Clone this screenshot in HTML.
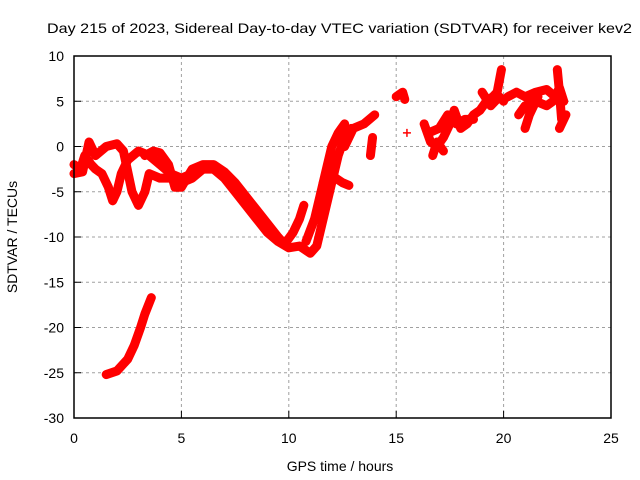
<!DOCTYPE html>
<html><head><meta charset="utf-8"><style>
body{margin:0;background:#fff}
svg{display:block;font-family:"Liberation Sans",sans-serif}
</style></head><body>
<svg id="chart" width="640" height="480">
<text x="47" y="33" font-size="14" textLength="585" lengthAdjust="spacingAndGlyphs">Day 215 of 2023, Sidereal Day-to-day VTEC variation (SDTVAR) for receiver kev2</text>
<g id="grid"></g>
<g id="series"></g>
<rect x="74" y="56" width="537" height="362" fill="none" stroke="#000" stroke-width="1.5"/>
<g id="axes"></g>
<text x="340" y="471" text-anchor="middle" font-size="14">GPS time / hours</text>
<text transform="translate(17,237) rotate(-90)" text-anchor="middle" font-size="14">SDTVAR / TECUs</text>
</svg>
<script>
const xTicks=[0,5,10,15,20,25];
const yTicks=[10,5,0,-5,-10,-15,-20,-25,-30];
const trackA=[[1.5,-25.2],[2.0,-24.8],[2.5,-23.5],[2.8,-22],[3.1,-20],[3.3,-18.5],[3.6,-16.7]];
const trackB=[[0,-2],[0.3,-2.5],[0.5,-1],[0.8,-2],[1,-2.5],[1.3,-3],[1.6,-4.5],[1.8,-6],[2,-5],[2.2,-3],[2.5,-1.5],[3,-0.5],[3.5,-1],[4,-2],[4.5,-3],[5,-3.5],[5.5,-3],[6,-2.5],[6.5,-2.5],[7,-3.5],[7.5,-5],[8,-6.5],[8.5,-8],[9,-9.5],[9.5,-10.5],[10,-11.2],[10.5,-11],[11,-11.8],[11.3,-11],[11.6,-8],[11.9,-5],[12.1,-3],[12.3,-1],[12.6,1],[12.9,2]];
const trackC=[[0,-3],[0.4,-2.8],[0.7,0.5],[1,-1],[1.5,0],[2,0.3],[2.3,-0.5],[2.7,-5],[3,-6.5],[3.3,-5],[3.5,-3],[4,-3.5],[4.5,-3.5],[5,-4],[5.5,-3.5],[6,-2.5]];
const trackD=[[3.3,-1],[3.7,-0.5],[4,-0.7],[4.4,-2],[4.7,-4.5],[5,-4.5],[5.5,-2.5],[6,-2],[6.5,-2],[7,-2.8],[7.5,-4],[8,-5.5],[8.5,-7],[9,-8.5],[9.5,-10],[9.8,-10.8],[10.2,-9.5],[10.5,-8],[10.7,-6.5]];
const trackE=[[10.8,-10.5],[11.2,-8],[11.5,-5],[11.8,-2],[12,0],[12.3,1.5],[12.6,2.5]];
const trackF=[[11.6,-4],[12,-3.2],[12.5,-4],[12.8,-4.3]];
const trackG=[[12.6,0],[12.8,1],[13,2],[13.5,2.5],[14,3.5]];
const trackH=[[13.8,-1],[13.9,1]];
const trackI=[[15,5.5],[15.3,6],[15.4,5.2]];
const trackJ=[[15.5,1.5]];
const trackK=[[16.3,2.5],[16.6,0.5],[16.9,0],[17.2,1],[17.5,2.5],[17.7,4],[18,2],[18.3,2.5],[18.6,3.5],[18.9,4],[19.2,5],[19.5,5.5],[19.7,6],[19.9,8.5]];
const trackL=[[16.7,-1],[16.9,0.5],[17.2,-0.5]];
const trackP=[[16.5,1.5],[17,2],[17.4,3.5],[17.8,2.5],[18.2,3],[18.6,3]];
const trackQ=[[19.0,6],[19.4,4.5],[19.8,5.5],[20,5]];
const trackM=[[20.2,5.5],[20.6,6],[21,5.5],[21.5,6],[22,6.3],[22.4,5.5],[22.6,6.5],[22.8,5]];
const trackN=[[20.7,3.5],[21,4.5],[21.5,5],[22,4.5],[22.3,5]];
const trackR=[[21,2],[21.2,3.5],[21.6,5.5]];
const trackO=[[22.5,8.5],[22.6,6],[22.7,3],[22.9,3.5],[22.6,2]];
const tracks=[trackA,trackB,trackC,trackD,trackE,trackF,trackG,trackH,trackI,trackJ,trackK,trackL,trackP,trackQ,trackM,trackN,trackR,trackO];
const X=h=>74+h*537/25, Y=v=>56+(10-v)*362/40;
const NS='http://www.w3.org/2000/svg';
const grid=document.getElementById('grid'),axes=document.getElementById('axes'),ser=document.getElementById('series');
function mk(tag,attrs,parent){const e=document.createElementNS(NS,tag);for(const k in attrs)e.setAttribute(k,attrs[k]);parent.appendChild(e);return e;}
xTicks.forEach(t=>{
 if(t>0&&t<25){const g=mk('line',{x1:X(t),x2:X(t),y1:56,y2:418,stroke:'#a0a0a0','stroke-dasharray':'3,3'},grid);
 
 }
 const tk=mk('line',{x1:X(t),x2:X(t),y1:418,y2:411,stroke:'#000'},axes);
 
 
 const lb=mk('text',{x:X(t),y:443,'text-anchor':'middle','font-size':'14'},axes);lb.textContent=t;
 
 
});
yTicks.forEach(t=>{
 if(t<10&&t>-30){const g=mk('line',{x1:74,x2:611,y1:Y(t),y2:Y(t),stroke:'#a0a0a0','stroke-dasharray':'3,3'},grid);
 
 }
 const tk=mk('line',{x1:74,x2:81,y1:Y(t),y2:Y(t),stroke:'#000'},axes);
 
 
 const lb=mk('text',{x:64,y:Y(t)+5,'text-anchor':'end','font-size':'14'},axes);lb.textContent=t;
 
 
});
tracks.forEach(tr=>{
 if(tr.length>1){const p=mk('polyline',{points:tr.map(d=>X(d[0])+','+Y(d[1])).join(' '),fill:'none',stroke:'#f00','stroke-width':'9','stroke-linejoin':'round','stroke-linecap':'round'},ser);
 
 }
 tr.forEach(d=>{const x=X(d[0]),y=Y(d[1]);
  const m=mk('path',{d:`M${x-4},${y}H${x+4}M${x},${y-4}V${y+4}`,stroke:'#f00','stroke-width':'1.5'},ser);
  
  });
});
</script>
</body></html>
